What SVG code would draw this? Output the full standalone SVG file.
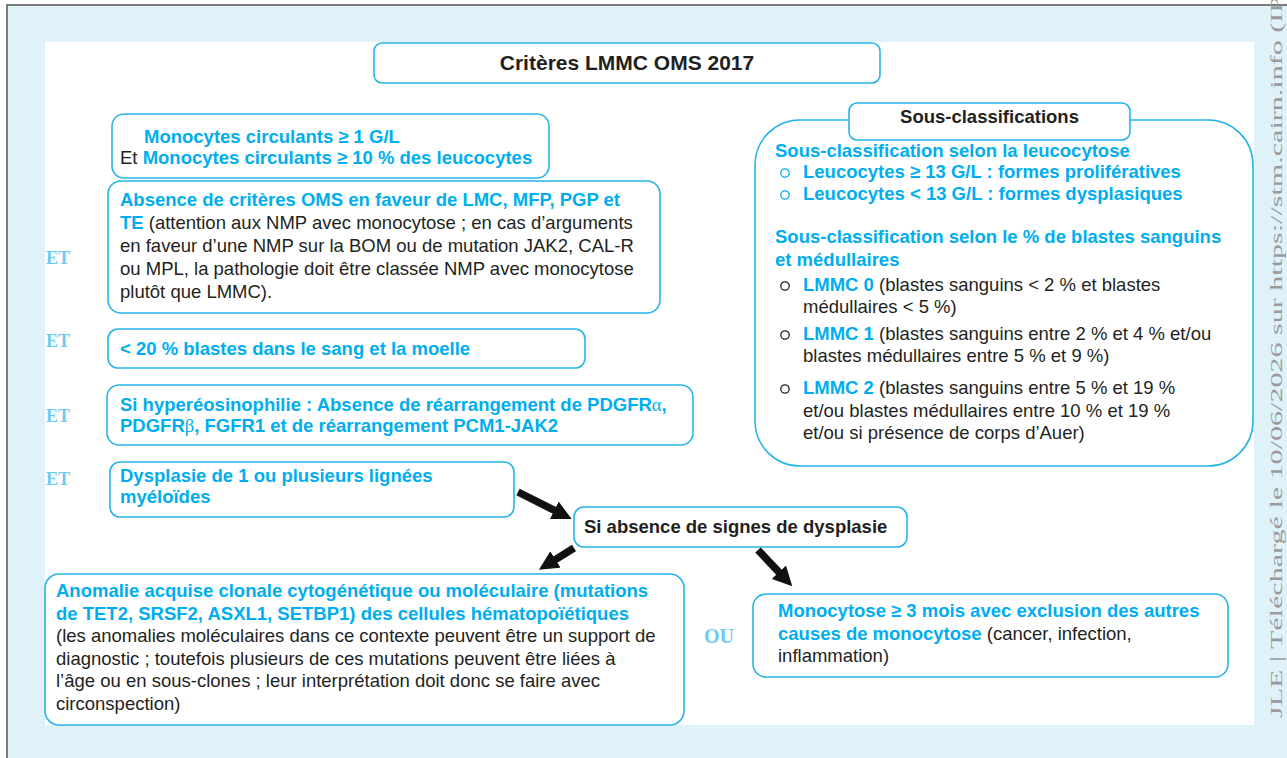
<svg xmlns="http://www.w3.org/2000/svg" width="1287" height="758" viewBox="0 0 1287 758">
<style>
.box{fill:#fff;stroke:#27b4e8;stroke-width:1.6}
.t{font-family:"Liberation Sans",Arial,Helvetica,sans-serif;font-size:18.5px;fill:#231f20}
.b{font-weight:bold}
.c{fill:#00aeef}
.g{font-family:"Liberation Serif","Times New Roman",serif;font-weight:normal}
.et{font-family:"Liberation Serif","Times New Roman",serif;font-weight:bold;font-size:18px;fill:#6ccbef}
.bc{fill:none;stroke-width:1.3}
.arr{stroke:#111;stroke-width:7.5;fill:none}
</style>
<defs>
<marker id="ah" viewBox="0 0 10 10" refX="3" refY="5" markerWidth="2.6" markerHeight="2.6" orient="auto" markerUnits="strokeWidth">
<path d="M0,0 L10,5 L0,10 z" fill="#111"/>
</marker>
</defs>
<rect x="0" y="0" width="1287" height="758" fill="#fff"/>
<rect x="7" y="5" width="1290" height="760" fill="#dff2fa"/>
<path d="M7,758 V5 H1287" fill="none" stroke="#555" stroke-width="1.5"/>
<rect x="45" y="42" width="1209" height="683" fill="#fff"/>
<text transform="translate(1282,718) rotate(-90)" font-family="'Liberation Serif','Times New Roman',serif" font-size="17" fill="#9a9a9a" textLength="722" lengthAdjust="spacingAndGlyphs">JLE | Téléchargé le 10/06/2026 sur https://stm.cairn.info (IP</text>

<g id="title">
<rect class="box" x="374" y="43" width="506" height="40" rx="8"/>
<text class="t b" x="627" y="70" text-anchor="middle" style="font-size:21px">Critères LMMC OMS 2017</text>
</g>

<g id="monocytes">
<rect class="box" x="112" y="114" width="437" height="64" rx="12"/>
<text class="t b c" x="144" y="143">Monocytes circulants ≥ 1 G/L</text>
<text class="t" x="120" y="164">Et <tspan class="b c">Monocytes circulants ≥ 10 % des leucocytes</tspan></text>
</g>

<g id="absence">
<rect class="box" x="108" y="181" width="552" height="132" rx="13"/>
<text class="t b c" x="120" y="205.5">Absence de critères OMS en faveur de LMC, MFP, PGP et</text>
<text class="t" x="120" y="228.5"><tspan class="b c">TE</tspan> (attention aux NMP avec monocytose ; en cas d’arguments</text>
<text class="t" x="120" y="251.5">en faveur d’une NMP sur la BOM ou de mutation JAK2, CAL-R</text>
<text class="t" x="120" y="274.5">ou MPL, la pathologie doit être classée NMP avec monocytose</text>
<text class="t" x="120" y="297.5">plutôt que LMMC).</text>
</g>

<g id="blastes">
<rect class="box" x="108" y="329" width="477" height="39" rx="10"/>
<text class="t b c" x="120" y="355">&lt; 20 % blastes dans le sang et la moelle</text>
</g>

<g id="hypereo">
<rect class="box" x="107" y="385" width="586" height="60" rx="12"/>
<text class="t b c" x="120" y="411">Si hyperéosinophilie : Absence de réarrangement de PDGFR<tspan class="g">α</tspan>,</text>
<text class="t b c" x="120" y="432">PDGFR<tspan class="g">β</tspan>, FGFR1 et de réarrangement PCM1-JAK2</text>
</g>

<g id="dysplasie">
<rect class="box" x="110" y="462" width="404" height="55" rx="10"/>
<text class="t b c" x="120" y="482">Dysplasie de 1 ou plusieurs lignées</text>
<text class="t b c" x="120" y="503">myéloïdes</text>
</g>

<g id="et-labels">
<text class="et" x="46" y="264">ET</text>
<text class="et" x="46" y="347">ET</text>
<text class="et" x="46" y="422">ET</text>
<text class="et" x="46" y="485">ET</text>
<text class="et" x="704" y="643" style="font-size:20px">OU</text>
</g>

<g id="sous-classifications">
<rect class="box" x="755" y="120" width="498" height="346" rx="45"/>
<rect class="box" x="849" y="103" width="281" height="37" rx="8"/>
<text class="t b" x="989.5" y="123" text-anchor="middle">Sous-classifications</text>
<text class="t b c" x="775" y="157">Sous-classification selon la leucocytose</text>
<circle class="bc" cx="785" cy="173" r="4.2" stroke="#00aeef"/>
<text class="t b c" x="803" y="178">Leucocytes ≥ 13 G/L : formes prolifératives</text>
<circle class="bc" cx="785" cy="195" r="4.2" stroke="#00aeef"/>
<text class="t b c" x="803" y="200">Leucocytes &lt; 13 G/L : formes dysplasiques</text>
<text class="t b c" x="775" y="243">Sous-classification selon le % de blastes sanguins</text>
<text class="t b c" x="775" y="266">et médullaires</text>
<circle class="bc" cx="785" cy="286" r="4.2" stroke="#231f20"/>
<text class="t" x="803" y="291"><tspan class="b c">LMMC 0</tspan> (blastes sanguins &lt; 2 % et blastes</text>
<text class="t" x="803" y="313">médullaires &lt; 5 %)</text>
<circle class="bc" cx="785" cy="335" r="4.2" stroke="#231f20"/>
<text class="t" x="803" y="340"><tspan class="b c">LMMC 1</tspan> (blastes sanguins entre 2 % et 4 % et/ou</text>
<text class="t" x="803" y="362">blastes médullaires entre 5 % et 9 %)</text>
<circle class="bc" cx="785" cy="389" r="4.2" stroke="#231f20"/>
<text class="t" x="803" y="394"><tspan class="b c">LMMC 2</tspan> (blastes sanguins entre 5 % et 19 %</text>
<text class="t" x="803" y="417">et/ou blastes médullaires entre 10 % et 19 %</text>
<text class="t" x="803" y="439">et/ou si présence de corps d’Auer)</text>
</g>

<g id="si-absence">
<rect class="box" x="574" y="507" width="333" height="40" rx="10"/>
<text class="t b" x="584" y="533">Si absence de signes de dysplasie</text>
</g>

<g id="anomalie">
<rect class="box" x="45" y="574" width="639" height="151" rx="14"/>
<text class="t b c" x="56" y="597">Anomalie acquise clonale cytogénétique ou moléculaire (mutations</text>
<text class="t b c" x="56" y="619.5">de TET2, SRSF2, ASXL1, SETBP1) des cellules hématopoïétiques</text>
<text class="t" x="56" y="642">(les anomalies moléculaires dans ce contexte peuvent être un support de</text>
<text class="t" x="56" y="664.5">diagnostic ; toutefois plusieurs de ces mutations peuvent être liées à</text>
<text class="t" x="56" y="687">l’âge ou en sous-clones ; leur interprétation doit donc se faire avec</text>
<text class="t" x="56" y="709.5">circonspection)</text>
</g>

<g id="monocytose">
<rect class="box" x="753" y="594" width="475" height="83" rx="13"/>
<text class="t b c" x="778" y="617">Monocytose ≥ 3 mois avec exclusion des autres</text>
<text class="t" x="778" y="640"><tspan class="b c">causes de monocytose</tspan> (cancer, infection,</text>
<text class="t" x="778" y="662">inflammation)</text>
</g>

<g id="connectors">
<line class="arr" x1="518" y1="492" x2="559.5" y2="512.9" marker-end="url(#ah)"/>
<line class="arr" x1="574" y1="548" x2="550.5" y2="562.6" marker-end="url(#ah)"/>
<line class="arr" x1="758" y1="550" x2="782.9" y2="576.4" marker-end="url(#ah)"/>
</g>
</svg>
